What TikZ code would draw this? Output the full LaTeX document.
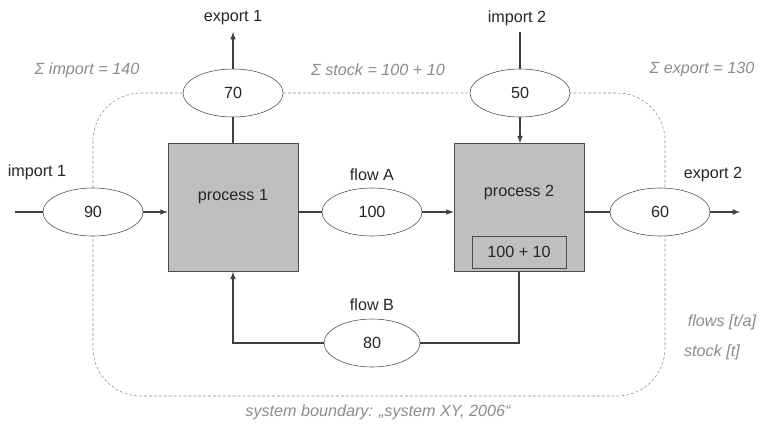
\documentclass[tikz,border=0pt]{standalone}
\usepackage{fontspec}
\setmainfont{Liberation Sans}
\usetikzlibrary{shapes.geometric}
\begin{document}
\begin{tikzpicture}[x=0.025cm,y=-0.025cm,
    every node/.style={font=\fontsize{11.5}{13}\selectfont, text=black!85},
    flow/.style={draw=black!70, fill=white, ellipse, minimum width=2.5cm, minimum height=1.2cm, inner sep=0pt},
    proc/.style={draw=black!70, fill=black!25, minimum width=3.25cm, minimum height=3.2cm, inner sep=0pt},
    note/.style={text=black!45, font=\fontsize{11.5}{13}\selectfont\itshape},
    line/.style={draw=black!75, line width=0.8pt}]
        \useasboundingbox (0,0) rectangle (760,423);
        \draw[black!45, dash pattern=on 2pt off 1.5pt, rounded corners=1.2cm] (93,93) rectangle (665,396);
        \node[proc] (p1) at (233,207.5) {};
        \node at (233,197) {process 1};
        \node[proc] (p2) at (519,207.5) {};
        \node at (519,193) {process 2};
        \node[draw=black!70, minimum width=2.35cm, minimum height=0.8cm, inner sep=0pt] (stk) at (519,252) {100 + 10};
        \node[flow] (f70) at (233,93) {70};
        \node[flow] (f50) at (520,93) {50};
        \node[flow] (f90) at (93,212) {90};
        \node[flow] (f100) at (372,212) {100};
        \node[flow] (f60) at (660,212) {60};
        \node[flow, minimum width=2.4cm] (f80) at (372,343) {80};
        \node (ex1) at (233,18) {export 1};
        \node (im2) at (517,18) {import 2};
        \node (im1) at (37,172) {import 1};
        \node (fa) at (372,175) {flow A};
        \node (ex2) at (713,175) {export 2};
        \node (fb) at (372,305) {flow B};
        \coordinate (a1) at (233,32);
        \coordinate (a2) at (520,32);
        \coordinate (in1) at (15,212);
        \coordinate (out2) at (740,212);
        \draw[line] (in1) -- (f90);
        \draw[line,-latex] (f90) -- (p1.west |- f90);
        \draw[line] (p1.east |- f100) -- (f100);
        \draw[line,-latex] (f100) -- (p2.west |- f100);
        \draw[line] (p2.east |- f60) -- (f60);
        \draw[line,-latex] (f60) -- (out2);
        \draw[line] (p1) -- (f70);
        \draw[line,-latex] (f70) -- (a1);
        \draw[line] (a2) -- (f50);
        \draw[line,-latex] (f50) -- (f50 |- p2.north);
        \draw[line] (p2.south) |- (f80);
        \draw[line,-latex] (f80) -| (p1.south);
        \node[note] (si) at (87,70) {Σ import = 140};
        \node[note] (ss) at (378,70) {Σ stock = 100 + 10};
        \node[note] (se) at (702,70) {Σ export = 130};
        \node[note] (fl) at (722,322) {flows [t/a]};
        \node[note] (st) at (712,352) {stock [t]};
        \node[note] (sb) at (378,412) {system boundary: „system XY, 2006“};
    \end{tikzpicture}
\end{document}
